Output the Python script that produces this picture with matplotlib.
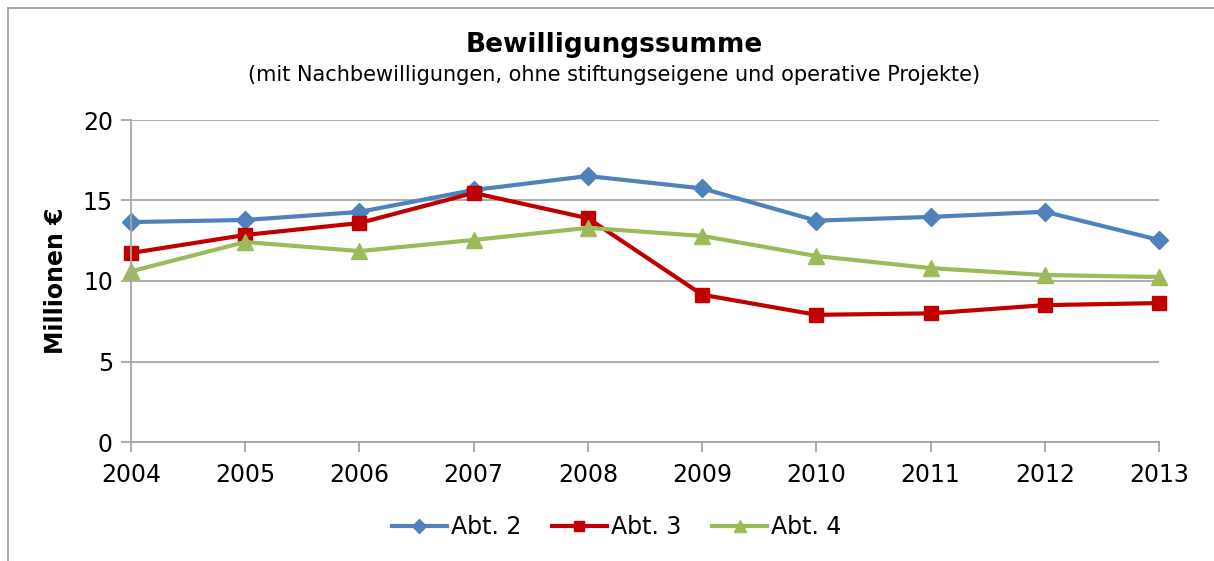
import matplotlib
matplotlib.use("Agg")
import matplotlib.pyplot as plt
from matplotlib.lines import Line2D

years = [2004, 2005, 2006, 2007, 2008, 2009, 2010, 2011, 2012, 2013]
abt2 = [13.66, 13.79, 14.29, 15.65, 16.52, 15.75, 13.75, 13.98, 14.30, 12.55]
abt3 = [11.74, 12.86, 13.60, 15.47, 13.90, 9.15, 7.90, 7.99, 8.50, 8.63]
abt4 = [10.60, 12.42, 11.86, 12.55, 13.30, 12.80, 11.55, 10.80, 10.37, 10.25]
labels = ["Abt. 2", "Abt. 3", "Abt. 4"]
colors = ["#4F81BD", "#C00000", "#9BBB59"]
markers = ["D", "s", "^"]
yticks = [0, 5, 10, 15, 20]

plt.rcParams['font.family'] = ['DejaVu Sans']

fig = plt.figure(figsize=(12.14, 5.61), dpi=100)
ax = fig.add_axes([131/1214, 1-442/561, (1159-131)/1214, (442-120)/561])

sizes = {"D": 9, "s": 10, "^": 11}
for vals, lab, c, m in zip([abt2, abt3, abt4], labels, colors, markers):
    ax.plot(years, vals, color=c, lw=3, marker=m, markersize=sizes[m], label=lab,
            markeredgecolor=c, solid_joinstyle='round', clip_on=False)

ax.set_xlim(years[0], years[-1])
ax.set_ylim(0, 20)
ax.set_xticks(years)
ax.set_yticks(yticks)
ax.tick_params(axis='both', labelsize=17, color='#A6A6A6', length=7, width=1.3)
ax.tick_params(axis='x', pad=8)
ax.tick_params(axis='y', pad=6)
ax.grid(axis='y', color='#A6A6A6', lw=1.3)
ax.set_axisbelow(True)
for s in ['top', 'right']:
    ax.spines[s].set_visible(False)
for s in ['left', 'bottom']:
    ax.spines[s].set_color('#A6A6A6')
    ax.spines[s].set_linewidth(1.3)

ax.set_ylabel("Millionen €", fontsize=17, fontweight='bold', labelpad=11)

fig.text(614/1214, 1-45/561, "Bewilligungssumme", ha='center', va='center',
         fontsize=19, fontweight='bold')
fig.text(614/1214, 1-75/561,
         "(mit Nachbewilligungen, ohne stiftungseigene und operative Projekte)",
         ha='center', va='center', fontsize=15)

fig.legend(loc='center', bbox_to_anchor=(617/1214, 1-527/561), ncol=3,
           frameon=False, fontsize=17, handlelength=2.3, columnspacing=1.3,
           handletextpad=0.2, markerscale=0.75)

# outer border (left and top visible)
fig.add_artist(Line2D([8/1214, 8/1214], [0, 1-8/561], color='#A0A0A0', lw=1.3,
                      transform=fig.transFigure))
fig.add_artist(Line2D([8/1214, 1], [1-8/561, 1-8/561], color='#A0A0A0', lw=1.3,
                      transform=fig.transFigure))

fig.savefig("out.png", dpi=100)
